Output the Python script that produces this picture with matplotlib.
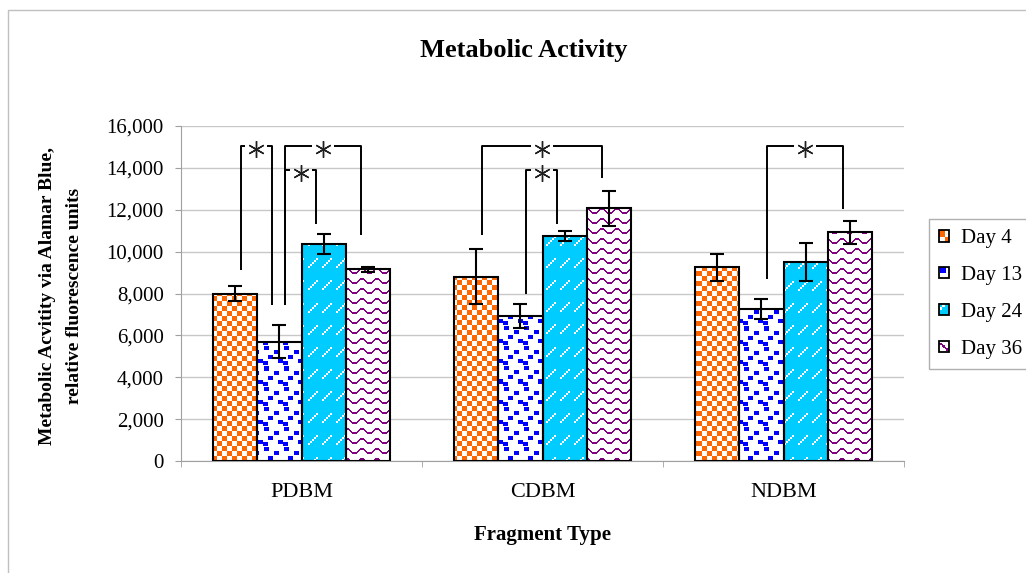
import numpy as np
import matplotlib
matplotlib.use('Agg')
import matplotlib.pyplot as plt
from matplotlib.patches import Rectangle, Patch
from matplotlib.ticker import FuncFormatter
from matplotlib.legend_handler import HandlerBase
from matplotlib.image import BboxImage
from matplotlib.transforms import Bbox, TransformedBbox

plt.rcParams['font.family'] = ['Liberation Serif', 'DejaVu Serif']

# datos
fragmentos = ['PDBM', 'CDBM', 'NDBM']
dias = ['Day 4', 'Day 13', 'Day 24', 'Day 36']
dia4 = [8000, 8800, 9250]
dia13 = [5700, 6930, 7280]
dia24 = [10380, 10750, 9500]
dia36 = [9150, 12070, 10920]
err4 = [350, 1320, 660]
err13 = [800, 570, 480]
err24 = [470, 230, 890]
err36 = [130, 840, 540]

# corchetes de significancia: (grupo, barra izq, barra der, altura, pie izq, pie der)
corchetes = [
    (0, 0, 1, 15060, 9140, 7460),
    (0, 1, 3, 15060, 7460, 10800),
    (0, 1, 2, 13920, 7460, 11340),
    (1, 0, 3, 15060, 10800, 13540),
    (1, 1, 2, 13920, 7980, 11340),
    (2, 1, 3, 15060, 8690, 12020),
]

W_FIG, H_FIG = 1026, 573
fig = plt.figure(figsize=(W_FIG / 100, H_FIG / 100), dpi=100)
ax = fig.add_axes([181 / W_FIG, (H_FIG - 461) / H_FIG, 723 / W_FIG, 335 / H_FIG])
AX_W, AX_H = 723, 335


# tramas de relleno (pixeles)
def hex_rgb(c):
    c = c.lstrip('#')
    return np.array([int(c[i:i + 2], 16) / 255 for i in (0, 2, 4)])


def tile_ajedrez():
    r, c = np.mgrid[0:10, 0:10]
    return ((r // 5 + c // 5) % 2 == 0)


def tile_confeti():
    t = np.zeros((20, 20), bool)
    for r0, c0 in [(1, 3), (5, 13), (10, 7), (14, 17), (16, 2)]:
        for dr in range(4):
            for dc in range(5):
                t[(r0 + dr) % 20, (c0 + dc) % 20] = True
    return t


def tile_diagonal():
    t = np.zeros((22, 14), bool)
    for k in range(5):
        t[9 - 2 * k:11 - 2 * k, 2 * k:2 * k + 2] = True
    return t


def tile_onda():
    offs = [0, 0, 0, 1, 2, 3, 4, 4, 4, 4, 4, 3, 2, 1, 0]
    t = np.zeros((10, 15), bool)
    for c, o in enumerate(offs):
        t[o + 2:o + 4, c] = True
    return t


def trama(tile, color_on, color_off, h, w):
    reps = (h // tile.shape[0] + 1, w // tile.shape[1] + 1)
    m = np.tile(tile, reps)[:h, :w]
    img = np.empty((h, w, 3))
    img[m] = hex_rgb(color_on)
    img[~m] = hex_rgb(color_off)
    return img


estilos = [
    (tile_ajedrez(), '#FF6600', '#FFFFFF'),
    (tile_confeti(), '#0000FF', '#FFFFFF'),
    (tile_diagonal(), '#FFFFFF', '#00CCFF'),
    (tile_onda(), '#800080', '#FFFFFF'),
]
imagenes = [trama(t, a, b, AX_H, AX_W) for t, a, b in estilos]

series = [dia4, dia13, dia24, dia36]
errores = [err4, err13, err24, err36]
x = np.arange(len(fragmentos))
ancho = 0.1846

for i, (vals, errs) in enumerate(zip(series, errores)):
    pos = x + (i - 1.5) * ancho
    barras = ax.bar(pos, vals, ancho, facecolor='none', edgecolor='black',
                    linewidth=1.5, zorder=3)
    for b in barras:
        im = ax.imshow(imagenes[i], extent=(-0.5, 2.5, 0, 16000), aspect='auto',
                       interpolation='nearest', zorder=2)
        im.set_clip_path(b)
    ax.errorbar(pos, vals, yerr=errs, fmt='none', ecolor='black', elinewidth=1.5,
                capsize=5, capthick=1.5, zorder=4)

# corchetes con asterisco
hueco = 11 / AX_W * 3
for g, bi, bd, alto, yi, yd in corchetes:
    xi = g + (bi - 1.5) * ancho + 0.025
    xd = g + (bd - 1.5) * ancho - 0.032
    xm = (xi + xd) / 2
    kw = dict(color='black', linewidth=1.4, zorder=5, solid_capstyle='butt')
    ax.plot([xi, xi, xm - hueco], [yi, alto, alto], **kw)
    ax.plot([xm + hueco, xd, xd], [alto, alto, yd], **kw)
    ax.plot(xm, alto - 170, marker=(6, 2, 0), markersize=12, color='#202020',
            markeredgewidth=1.0, zorder=5)

ax.set_xlim(-0.5, 2.5)
ax.set_ylim(0, 16000)
ax.set_yticks(np.arange(0, 16001, 2000))
ax.yaxis.set_major_formatter(FuncFormatter(lambda v, p: f'{int(v):,}'))
ax.set_xticks(x)
ax.set_xticklabels(fragmentos)
ax.set_xticks([-0.5, 0.5, 1.5, 2.5], minor=True)
ax.tick_params(axis='x', which='major', length=0, pad=16, labelsize=16)
ax.tick_params(axis='x', which='minor', length=4, color='#A0A0A0', direction='out')
ax.tick_params(axis='y', length=4.5, color='#A0A0A0', pad=8, labelsize=15)
ax.grid(axis='y', color='#C8C8C8', linewidth=1)
ax.set_axisbelow(True)
for s in ['top', 'right']:
    ax.spines[s].set_visible(False)
for s in ['left', 'bottom']:
    ax.spines[s].set_color('#A0A0A0')

fig.text(524 / W_FIG, 1 - 51 / H_FIG, 'Metabolic Activity', fontsize=19,
         fontweight='bold', ha='center', va='center')
fig.text(543 / W_FIG, 1 - 535 / H_FIG, 'Fragment Type', fontsize=15,
         fontweight='bold', ha='center', va='center')
fig.text(61 / W_FIG, 1 - 296 / H_FIG,
         'Metabolic Acvitity via Alamar Blue,\nrelative fluorescence units',
         fontsize=14, fontweight='bold', rotation=90, ha='center', va='center',
         multialignment='center', linespacing=1.75)

# marco exterior
fig.add_artist(Rectangle((8 / W_FIG, -0.1), 1.2, 1.1 - 10 / H_FIG, transform=fig.transFigure,
                         fill=False, edgecolor='#C0C0C0', linewidth=1))


class HandlerTrama(HandlerBase):
    def __init__(self, muestra):
        super().__init__()
        self.muestra = muestra

    def create_artists(self, legend, orig_handle, xdescent, ydescent, width, height,
                       fontsize, trans):
        bb = TransformedBbox(Bbox.from_bounds(-xdescent, -ydescent, width, height), trans)
        img = BboxImage(bb, interpolation='nearest')
        img.set_data(self.muestra)
        borde = Rectangle((-xdescent, -ydescent), width, height, facecolor='none',
                          edgecolor='black', linewidth=1.3, transform=trans)
        return [img, borde]


handles = [Patch(label=d) for d in dias]
muestras = [imagenes[0][0:9, 0:9], imagenes[1][0:9, 2:11],
            imagenes[2][2:11, 3:12], imagenes[3][0:9, 0:9]]
leg = fig.legend(handles, dias, loc='upper left',
                 bbox_to_anchor=(929 / W_FIG, 1 - 219 / H_FIG),
                 handler_map={h: HandlerTrama(m) for h, m in zip(handles, muestras)},
                 fontsize=15, handlelength=0.45, handleheight=0.45, handletextpad=0.6,
                 labelspacing=0.85, borderpad=0.5, borderaxespad=0, fancybox=False,
                 edgecolor='#B0B0B0', framealpha=1)
leg.get_frame().set_linewidth(1)

fig.savefig('out.png', dpi=100)
